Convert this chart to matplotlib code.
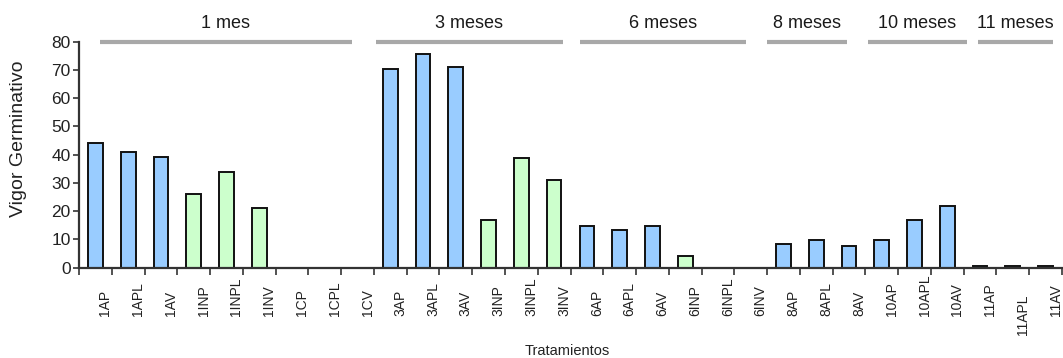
import matplotlib
matplotlib.use("Agg")
import matplotlib.pyplot as plt
from matplotlib.transforms import blended_transform_factory

plt.rcParams['font.family'] = ['Liberation Sans', 'DejaVu Sans']

# Treatments (x categories) and germination vigour values
categories = ["1AP", "1APL", "1AV", "1INP", "1INPL", "1INV", "1CP", "1CPL", "1CV",
              "3AP", "3APL", "3AV", "3INP", "3INPL", "3INV",
              "6AP", "6APL", "6AV", "6INP", "6INPL", "6INV",
              "8AP", "8APL", "8AV",
              "10AP", "10APL", "10AV",
              "11AP", "11APL", "11AV"]
vigor = [44, 41, 39, 26, 34, 21, 0, 0, 0,
         70.5, 75.5, 71, 17, 38.8, 31,
         14.8, 13.3, 14.8, 4.2, 0, 0,
         8.4, 9.8, 7.7,
         9.8, 16.9, 21.8,
         0.6, 0.6, 0.6]

# Storage-time groups
groups = ["1 mes", "3 meses", "6 meses", "8 meses", "10 meses", "11 meses"]
group_sizes = [9, 6, 6, 3, 3, 3]

y_ticks = [0, 10, 20, 30, 40, 50, 60, 70, 80]

# Layout / style
blue = "#99CCFF"
green = "#CCFFCC"
bracket_pad_left = [0.64, 0.06, 0.29, -0.01, 0.08, 0.43]
bracket_pad_right = [0.67, 0.23, 0.65, 0.57, -0.10, 0.27]
label_drop = {"11APL": 19}

fig = plt.figure(figsize=(10.63, 3.58), dpi=100)
ax = fig.add_axes([79 / 1063, 1 - 267.5 / 358, (1062 - 79) / 1063, (267.5 - 41.7) / 358])

x = [i + 0.5 for i in range(len(categories))]
colors = [green if "IN" in c else blue for c in categories]
ax.bar(x, vigor, width=0.45, color=colors, edgecolor="#111111", linewidth=1.4, zorder=2)

ax.set_xlim(0, len(categories))
ax.set_ylim(0, 80)
ax.set_yticks(y_ticks)
ax.set_yticklabels([str(v) for v in y_ticks], fontsize=12.5, color="#222222")
ax.set_xticks(range(len(categories) + 1))
ax.set_xticklabels([])
ax.tick_params(axis="y", direction="out", length=4, width=1.3, color="#444444", pad=2)
ax.tick_params(axis="x", direction="out", length=5, width=1.3, color="#444444")

for side in ("top", "right"):
    ax.spines[side].set_visible(False)
for side in ("left", "bottom"):
    ax.spines[side].set_color("#333333")
    ax.spines[side].set_linewidth(1.6)
ax.spines["bottom"].set_zorder(3)

# Category labels, rotated under each bar
for xi, c in zip(x, categories):
    ax.annotate(c, xy=(xi, 0), xycoords=("data", "axes fraction"),
                xytext=(10, -48.5 - label_drop.get(c, 0)), textcoords="offset pixels",
                rotation=90, ha="center", va="bottom", fontsize=10, color="#222222",
                annotation_clip=False)

# Group brackets with their labels above the plot
trans = blended_transform_factory(ax.transData, ax.transAxes)
start = 0
for name, size, pl, pr in zip(groups, group_sizes, bracket_pad_left, bracket_pad_right):
    x0 = start + pl
    x1 = start + size - pr
    ax.plot([x0, x1], [0.9965, 0.9965], transform=trans, color="#A8A8A8",
            linewidth=3.0, solid_capstyle="butt", clip_on=False)
    ax.text((x0 + x1) / 2, 1.0585, name, transform=trans, ha="center",
            va="baseline", fontsize=13, color="#1a1a1a")
    start += size

fig.text(18.5 / 1063, 1 - 139 / 358, "Vigor Germinativo", rotation=90,
         ha="center", va="center", fontsize=14, color="#222222")
fig.text(567 / 1063, 3 / 358, "Tratamientos", ha="center", va="baseline",
         fontsize=10.5, color="#222222")

fig.savefig("out.png", dpi=100)
